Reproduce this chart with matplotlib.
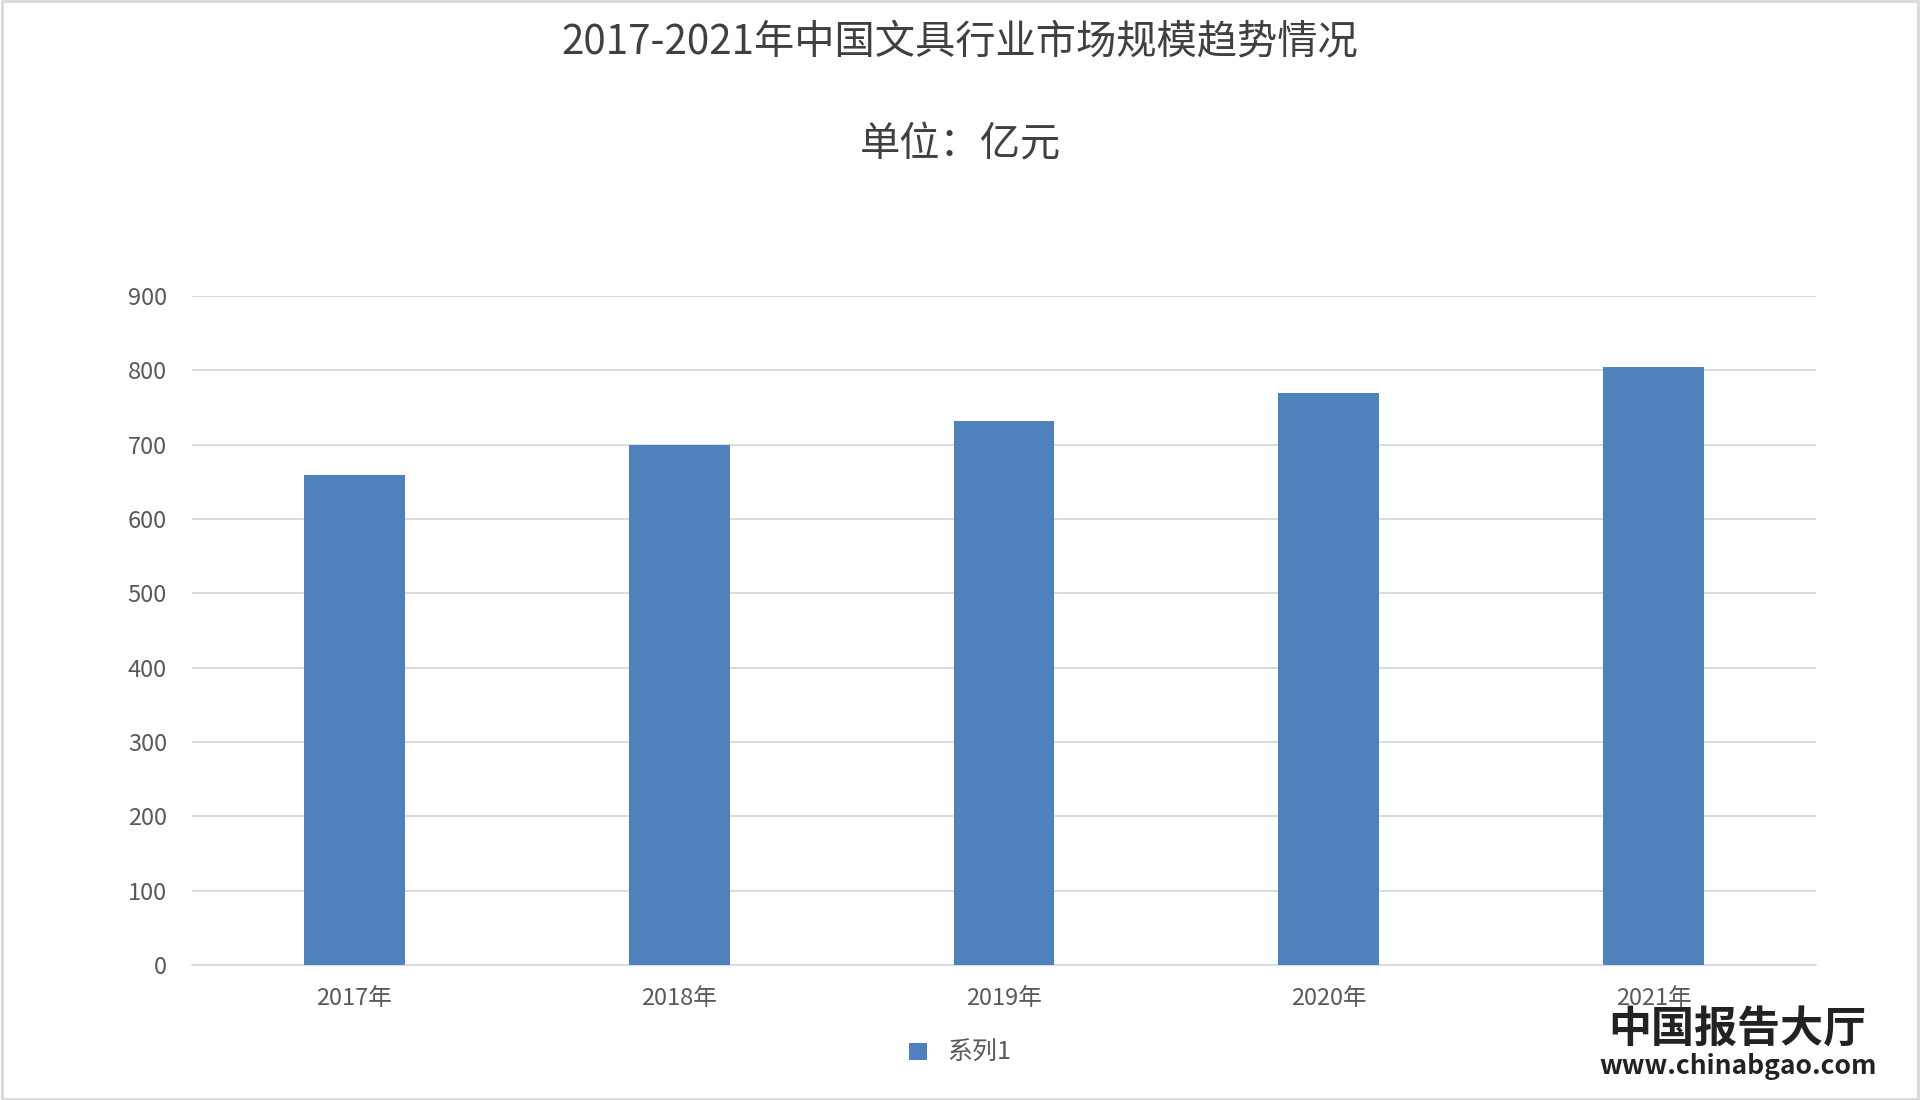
import matplotlib
matplotlib.use("Agg")
import matplotlib.pyplot as plt

plt.rcParams['font.family'] = ['Noto Sans CJK SC', 'DejaVu Sans']

categories = ["2017年", "2018年", "2019年", "2020年", "2021年"]
values = [659, 700, 732, 769, 804]
yticks = [0, 100, 200, 300, 400, 500, 600, 700, 800, 900]

fig = plt.figure(figsize=(19.2, 11), dpi=100)
ax = fig.add_axes([192/1920, 1-965/1100, (1816-192)/1920, (965-296)/1100])
ax.bar(range(len(categories)), values, width=0.31, color='#4F81BD', zorder=3, label='系列1')
ax.set_xlim(-0.5, len(categories)-0.5)
ax.set_ylim(0, 900)
ax.set_yticks(yticks)
ax.set_xticks(range(len(categories)))
ax.set_xticklabels(categories)
ax.tick_params(axis='y', length=0, labelsize=17, colors='#595959', pad=18)
ax.tick_params(axis='x', length=0, labelsize=17, colors='#595959', pad=16)
ax.grid(axis='y', color='#D9D9D9', linewidth=1.3, zorder=0)
for s in ['top', 'right', 'left']:
    ax.spines[s].set_visible(False)
ax.spines['bottom'].set_color('#D9D9D9')
ax.spines['bottom'].set_linewidth(1.3)

fig.text(0.5, 1-42/1100, "2017-2021年中国文具行业市场规模趋势情况", ha='center', va='center', fontsize=29, color='#404040')
fig.text(0.5, 1-145/1100, "单位：亿元", ha='center', va='center', fontsize=29, color='#404040')
fig.legend(loc='center', bbox_to_anchor=(0.5, 1-1053/1100), frameon=False, fontsize=18,
           handlelength=0.7, handleheight=0.7, labelcolor='#595959')
fig.text(0.905, 1-1030/1100, "中国报告大厅", ha='center', va='center', fontsize=31, fontweight='bold', color='#222222')
fig.text(0.905, 1-1066/1100, "www.chinabgao.com", ha='center', va='center', fontsize=19, fontweight='bold', color='#222222')

border = plt.Rectangle((0.001, 0.001), 0.998, 0.998, transform=fig.transFigure, fill=False, edgecolor='#D9D9D9', linewidth=2)
fig.patches.append(border)
fig.savefig("out.png", dpi=100, facecolor='white')
